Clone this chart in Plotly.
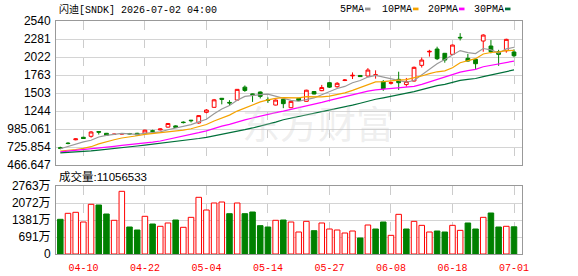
import plotly.graph_objects as go

# ---------------- data ----------------
dates = ["04-07", "04-08", "04-09", "04-10", "04-13", "04-14", "04-15", "04-16", "04-17",
         "04-20", "04-21", "04-22", "04-23", "04-24", "04-27", "04-28", "04-29", "04-30",
         "05-01", "05-04", "05-05", "05-06", "05-07", "05-08", "05-11", "05-12", "05-13",
         "05-14", "05-15", "05-18", "05-19", "05-20", "05-21", "05-22", "05-26", "05-27",
         "05-28", "05-29", "06-01", "06-02", "06-03", "06-04", "06-05", "06-08", "06-09",
         "06-10", "06-11", "06-12", "06-15", "06-16", "06-17", "06-18", "06-22", "06-23",
         "06-24", "06-25", "06-26", "06-29", "06-30", "07-01"]

opens = [715, 782, 830, 866, 880, 948, 923, 906, 912, 920,
         923, 925, 960, 972, 1012, 1030, 1084, 1112, 1072, 1225,
         1297, 1427, 1368, 1402, 1588, 1490, 1518, 1405, 1330, 1412,
         1292, 1427, 1384, 1525, 1537, 1652, 1594, 1683, 1750, 1756,
         1748, 1758, 1668, 1644, 1700, 1625, 1676, 1902, 2095, 2137,
         2075, 2060, 2305, 2003, 1988, 2252, 2180, 2098, 2112, 2094]
highs = [730, 795, 850, 872, 956, 952, 928, 920, 925, 928,
         930, 975, 975, 992, 1072, 1038, 1095, 1116, 1185, 1272,
         1418, 1432, 1400, 1560, 1612, 1495, 1525, 1440, 1410, 1440,
         1390, 1432, 1550, 1530, 1620, 1660, 1660, 1705, 1800, 1762,
         1862, 1830, 1690, 1670, 1810, 1720, 1885, 2015, 2125, 2170,
         2080, 2200, 2365, 2065, 2000, 2350, 2266, 2125, 2285, 2132]
lows = [693, 765, 822, 842, 860, 905, 890, 900, 905, 908,
        895, 918, 945, 965, 1005, 1000, 1065, 1080, 1060, 1211,
        1290, 1340, 1318, 1398, 1520, 1375, 1425, 1360, 1325, 1285,
        1285, 1388, 1380, 1484, 1530, 1575, 1580, 1675, 1705, 1735,
        1738, 1710, 1535, 1625, 1548, 1594, 1668, 1870, 2028, 1978,
        1940, 2055, 2260, 1955, 1850, 2098, 2075, 1895, 2084, 2017]
closes = [708, 776, 842, 848, 942, 940, 894, 910, 918, 915,
          899, 968, 952, 985, 1064, 1008, 1078, 1105, 1178, 1258,
          1405, 1413, 1360, 1556, 1540, 1483, 1455, 1398, 1402, 1350,
          1383, 1393, 1544, 1489, 1582, 1588, 1643, 1690, 1758, 1740,
          1834, 1765, 1566, 1652, 1652, 1670, 1873, 1978, 2103, 1997,
          1978, 2194, 2298, 1964, 1925, 2338, 2098, 2060, 2276, 2040]

ma5 = [700, 735, 770, 800, 823, 870, 893, 907, 921, 915,
       907, 922, 930, 944, 974, 995, 1017, 1048, 1087, 1125,
       1205, 1272, 1323, 1398, 1455, 1470, 1479, 1486, 1456, 1418,
       1398, 1385, 1414, 1432, 1478, 1519, 1569, 1598, 1652, 1684,
       1733, 1757, 1733, 1711, 1694, 1661, 1683, 1765, 1855, 1924,
       1986, 2050, 2114, 2086, 2072, 2144, 2125, 2077, 2139, 2162]
ma10 = [668, 675, 690, 705, 730, 770, 805, 830, 855, 869,
        888, 908, 919, 932, 945, 951, 970, 989, 1015, 1050,
        1100, 1145, 1185, 1243, 1290, 1338, 1375, 1405, 1427, 1436,
        1434, 1432, 1450, 1444, 1448, 1458, 1477, 1506, 1542, 1581,
        1626, 1663, 1666, 1682, 1689, 1697, 1720, 1749, 1783, 1809,
        1823, 1866, 1940, 1971, 1998, 2065, 2087, 2096, 2113, 2117]
ma20 = [655, 665, 678, 690, 700, 712, 722, 735, 748, 758,
        770, 783, 797, 812, 835, 852, 875, 903, 932, 959,
        994, 1026, 1052, 1087, 1117, 1144, 1173, 1197, 1221, 1243,
        1267, 1288, 1318, 1343, 1369, 1398, 1426, 1456, 1485, 1509,
        1530, 1548, 1558, 1563, 1568, 1578, 1599, 1628, 1663, 1695,
        1725, 1765, 1803, 1826, 1843, 1881, 1904, 1922, 1948, 1963]
ma30 = [640, 645, 652, 660, 670, 680, 690, 700, 712, 725,
        740, 752, 765, 778, 790, 802, 815, 830, 848, 865,
        885, 907, 928, 950, 975, 1000, 1025, 1050, 1085, 1118,
        1141, 1161, 1185, 1206, 1228, 1249, 1274, 1300, 1328, 1356,
        1387, 1413, 1434, 1456, 1476, 1498, 1524, 1553, 1584, 1609,
        1628, 1654, 1685, 1699, 1712, 1740, 1762, 1784, 1813, 1836]

volumes = [14100000, 16530000, 16940000, 13000000, 20190000, 19910000, 16250000, 13690000, 25470000, 10970000,
           9750000, 15320000, 12190000, 11250000, 12600000, 13810000, 10850000, 14900000, 23030000, 17880000,
           20720000, 21130000, 16380000, 20720000, 16380000, 17060000, 11510000, 10970000, 13690000, 13810000,
           13000000, 8940000, 13270000, 9470000, 12600000, 10160000, 9750000, 8530000, 9340000, 6500000,
           11780000, 10160000, 13000000, 7580000, 16120000, 10160000, 13270000, 11650000, 8940000, 9340000,
           8940000, 11650000, 9610000, 12600000, 10160000, 14900000, 16660000, 10970000, 11250000, 11056533]
# 1 = volume bar drawn red (up), 0 = green (down)
vol_up = [0, 1, 1, 1, 1, 0, 0, 1, 1, 0,
          0, 1, 0, 1, 1, 0, 1, 1, 1, 1,
          1, 1, 0, 1, 0, 0, 0, 0, 1, 0,
          1, 1, 1, 0, 1, 1, 1, 1, 1, 0,
          1, 0, 0, 1, 1, 0, 1, 1, 1, 0,
          0, 1, 1, 0, 0, 1, 0, 0, 1, 0]

tick_dates = ["04-10", "04-22", "05-04", "05-14", "05-27", "06-08", "06-18", "07-01"]
price_ticks = [466.647, 725.854, 985.061, 1244.268, 1503.475, 1762.682, 2021.889, 2281.096, 2540.303]
price_tick_text = ["466.647", "725.854", "985.061", "1244", "1503", "1763", "2022", "2281", "2540"]
vol_ticks = [0, 6907500, 13815000, 20722500, 27630000]
vol_tick_text = ["0", "691万", "1381万", "2072万", "2763万"]
ma_names = ["5PMA", "10PMA", "20PMA", "30PMA"]
title_text = "闪迪[SNDK] 2026-07-02 04:00"
vol_label = "成交量:11056533"

# ---------------- layout helpers ----------------
W, H = 578, 276
L, R, T, B = 56, 56, 21, 22
PW, PH = W - L - R, H - T - B


def px(x):
    return (x - L) / PW


def py(y):
    return (H - B - y) / PH


RED = "#ff0000"
GREEN = "#008000"
MA_COLORS = ["#999999", "#f5a300", "#ff00ff", "#00703a"]
MONO = "Liberation Mono, Noto Sans CJK SC, monospace"
SANS = "Liberation Sans, Arial, Noto Sans CJK SC, sans-serif"

fig = go.Figure()

fig.add_trace(go.Candlestick(
    x=dates, open=opens, high=highs, low=lows, close=closes,
    increasing=dict(line=dict(color=RED, width=1), fillcolor="#ffffff"),
    decreasing=dict(line=dict(color=GREEN, width=1), fillcolor=GREEN),
    whiskerwidth=0, xaxis="x", yaxis="y", showlegend=False, hoverinfo="skip"))

for name, vals, col in zip(ma_names, [ma5, ma10, ma20, ma30], MA_COLORS):
    fig.add_trace(go.Scatter(x=dates, y=vals, mode="lines", name=name,
                             line=dict(color=col, width=1.2),
                             xaxis="x", yaxis="y", showlegend=False, hoverinfo="skip"))

fig.add_trace(go.Bar(
    x=dates, y=volumes,
    marker=dict(color=["#ffffff" if u else GREEN for u in vol_up],
                line=dict(color=[RED if u else GREEN for u in vol_up], width=1)),
    xaxis="x2", yaxis="y2", showlegend=False, hoverinfo="skip"))

xcommon = dict(type="category", range=[-0.56, 60.04], tickvals=tick_dates,
               showgrid=True, gridcolor="#cccccc", griddash="dash", gridwidth=1,
               showline=True, mirror=True, linecolor="#999999", linewidth=1,
               zeroline=False, fixedrange=True,
               rangeslider=dict(visible=False))

fig.update_layout(
    width=W, height=H, margin=dict(l=L, r=R, t=T, b=B, autoexpand=False),
    paper_bgcolor="#ffffff", plot_bgcolor="#ffffff",
    bargap=0.28,
    xaxis=dict(domain=[0, 1], anchor="y", showticklabels=False, ticks="", **xcommon),
    xaxis2=dict(domain=[0, 1], anchor="y2", matches="x", showticklabels=True,
                ticks="outside", ticklen=4, tickcolor="rgba(0,0,0,0)",
                tickfont=dict(family=MONO, size=10, color=RED), **xcommon),
    yaxis=dict(domain=[py(165), 1], range=[466.647, 2540.303], tickvals=price_ticks,
               ticktext=price_tick_text, showgrid=True, gridcolor="#d4d4d4",
               showline=True, mirror=True, linecolor="#999999", ticks="",
               zeroline=False, ticklabelstandoff=2,
               tickfont=dict(family=SANS, size=12, color="#000000")),
    yaxis2=dict(domain=[0, py(186)], range=[0, 27630000], tickvals=vol_ticks,
                ticktext=vol_tick_text, showgrid=True, gridcolor="#d4d4d4",
                showline=True, mirror=True, linecolor="#999999", ticks="",
                zeroline=False, ticklabelstandoff=2,
                tickfont=dict(family=SANS, size=12, color="#000000")),
)

annotations = [
    dict(text="东方财富", x=px(318), y=py(92), xref="paper", yref="paper",
         showarrow=False, font=dict(family="Noto Sans CJK SC", size=38, color="rgba(200,200,200,0.3)")),
    dict(text=title_text, x=px(57), y=py(9), xref="paper", yref="paper",
         xanchor="left", yanchor="middle", showarrow=False,
         font=dict(family=MONO, size=10, color="#000000")),
    dict(text=vol_label, x=px(57), y=py(176.5), xref="paper", yref="paper",
         xanchor="left", yanchor="middle", showarrow=False,
         font=dict(family=SANS, size=11.5, color="#000000")),
]
shapes = []
leg_x = [338, 380, 426, 472]
sw_x = [365, 413, 459, 505]
for name, col, lx, sx in zip(ma_names, MA_COLORS, leg_x, sw_x):
    annotations.append(dict(text=name, x=px(lx), y=py(9), xref="paper", yref="paper",
                            xanchor="left", yanchor="middle", showarrow=False,
                            font=dict(family=MONO, size=10, color="#000000")))
    shapes.append(dict(type="rect", xref="paper", yref="paper",
                       x0=px(sx), x1=px(sx + 5.5), y0=py(10.3), y1=py(7.6),
                       fillcolor=col, line=dict(width=0)))

fig.update_layout(annotations=annotations, shapes=shapes)

fig.write_html("out.html")
